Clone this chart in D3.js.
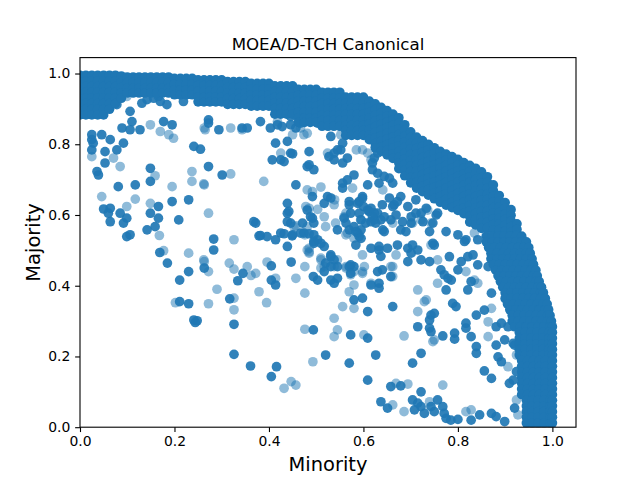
<!DOCTYPE html>
<html>
<head>
<meta charset="utf-8">
<script src="https://cdn.jsdelivr.net/npm/d3@7"></script>
<style>
html,body{margin:0;padding:0;background:#fff;}
text{font-family:"DejaVu Sans",sans-serif;fill:#000;}
</style>
</head>
<body>
<svg id="chart" width="640" height="480"></svg>
<script>
// ---------------- data ----------------
const title = "MOEA/D-TCH Canonical";
const xLabel = "Minority";
const yLabel = "Majority";
const xTicks = [0.0, 0.2, 0.4, 0.6, 0.8, 1.0];
const yTicks = [0.0, 0.2, 0.4, 0.6, 0.8, 1.0];
const xDomain = [0, 1.05];
const yDomain = [0, 1.045];

// dense front: each block = [list of x, list of y] (every x paired with every y)
const frontBlocks = [
  [[0, 0.0125, 0.025, 0.0375, 0.05], [0.995, 0.979, 0.963, 0.947, 0.931, 0.915, 0.899, 0.883]],
  [[0.0625], [0.995, 0.979, 0.963, 0.947, 0.931, 0.915, 0.899]],
  [[0.075], [0.995, 0.979, 0.963, 0.947, 0.931, 0.915]],
  [[0.0875], [0.993, 0.977, 0.961, 0.945, 0.93]],
  [[0.1, 0.1125, 0.125, 0.1375, 0.15, 0.1625, 0.175, 0.1875], [0.99, 0.974, 0.958, 0.945]],
  [[0.2, 0.2125, 0.225, 0.2375], [0.986, 0.97, 0.954, 0.94]],
  [[0.25, 0.2625, 0.275, 0.2875, 0.3], [0.982, 0.966, 0.95, 0.934, 0.92]],
  [[0.3125, 0.325, 0.3375, 0.35], [0.977, 0.961, 0.945, 0.929, 0.913]],
  [[0.3625, 0.375, 0.3875, 0.4], [0.972, 0.956, 0.94, 0.924, 0.908]],
  [[0.4125, 0.425, 0.4375, 0.45], [0.965, 0.949, 0.933, 0.917, 0.901, 0.885]],
  [[0.4625, 0.475, 0.4875, 0.5], [0.955, 0.939, 0.923, 0.907, 0.891, 0.875, 0.862]],
  [[0.5125, 0.525, 0.5375, 0.55], [0.947, 0.931, 0.915, 0.899, 0.883, 0.867, 0.851]],
  [[0.5625, 0.575, 0.5875, 0.6], [0.933, 0.917, 0.901, 0.885, 0.869, 0.853, 0.839, 0.825]],
  [[0.6125], [0.922, 0.906, 0.89, 0.874, 0.858, 0.842, 0.826, 0.813]],
  [[0.625], [0.914, 0.898, 0.882, 0.866, 0.85, 0.834, 0.818, 0.802, 0.79]],
  [[0.6375], [0.904, 0.888, 0.872, 0.856, 0.84, 0.824, 0.808, 0.792, 0.78]],
  [[0.65], [0.895, 0.879, 0.863, 0.847, 0.831, 0.815, 0.799, 0.783, 0.77]],
  [[0.6625], [0.885, 0.869, 0.853, 0.837, 0.821, 0.805, 0.789, 0.773, 0.76]],
  [[0.675], [0.875, 0.859, 0.843, 0.827, 0.811, 0.795, 0.779, 0.763, 0.747, 0.731]],
  [[0.6875], [0.855, 0.839, 0.823, 0.807, 0.791, 0.775, 0.759, 0.743, 0.727, 0.711]],
  [[0.7], [0.835, 0.819, 0.803, 0.787, 0.771, 0.755, 0.739, 0.723, 0.707, 0.691]],
  [[0.7125], [0.82, 0.804, 0.788, 0.772, 0.756, 0.74, 0.724, 0.708, 0.692, 0.676]],
  [[0.725], [0.81, 0.794, 0.778, 0.762, 0.746, 0.73, 0.714, 0.698, 0.682, 0.666]],
  [[0.7375], [0.8, 0.784, 0.768, 0.752, 0.736, 0.72, 0.704, 0.688, 0.672, 0.656]],
  [[0.75], [0.79, 0.774, 0.758, 0.742, 0.726, 0.71, 0.694, 0.678, 0.662, 0.646]],
  [[0.7625], [0.78, 0.764, 0.748, 0.732, 0.716, 0.7, 0.684, 0.668, 0.652, 0.636]],
  [[0.775], [0.772, 0.756, 0.74, 0.724, 0.708, 0.692, 0.676, 0.66, 0.644, 0.628]],
  [[0.7875], [0.765, 0.749, 0.733, 0.717, 0.701, 0.685, 0.669, 0.653, 0.637, 0.621]],
  [[0.8], [0.757, 0.741, 0.725, 0.709, 0.693, 0.677, 0.661, 0.645, 0.629, 0.613]],
  [[0.8125], [0.748, 0.732, 0.716, 0.7, 0.684, 0.668, 0.652, 0.636, 0.62, 0.604]],
  [[0.825], [0.74, 0.724, 0.708, 0.692, 0.676, 0.66, 0.644, 0.628, 0.612, 0.596, 0.58]],
  [[0.8375], [0.732, 0.716, 0.7, 0.684, 0.668, 0.652, 0.636, 0.62, 0.604, 0.588, 0.572]],
  [[0.85], [0.722, 0.706, 0.69, 0.674, 0.658, 0.642, 0.626, 0.61, 0.594, 0.578, 0.562]],
  [[0.8625], [0.708, 0.692, 0.676, 0.66, 0.644, 0.628, 0.612, 0.596, 0.58, 0.564]],
  [[0.875], [0.685, 0.669, 0.653, 0.637, 0.621, 0.605, 0.589, 0.573, 0.557]],
  [[0.8875], [0.655, 0.639, 0.623, 0.607, 0.591, 0.575, 0.559]],
  [[0.9], [0.635, 0.619, 0.603, 0.587, 0.571, 0.555]],
  [[0.9125], [0.615, 0.599, 0.583, 0.567, 0.551, 0.54]],
  [[0.925], [0.575, 0.559, 0.543, 0.527, 0.512]],
  [[0.86, 0.8725, 0.885, 0.8975, 0.91, 0.9225, 0.935], [0.54]],
  [[0.86, 0.8725, 0.885, 0.8975, 0.91, 0.9225, 0.935, 0.945], [0.524]],
  [[0.865, 0.8775, 0.89, 0.9025, 0.915, 0.9275, 0.94, 0.95], [0.508]],
  [[0.87, 0.8825, 0.895, 0.9075, 0.92, 0.9325, 0.945, 0.953], [0.492]],
  [[0.87, 0.8825, 0.895, 0.9075, 0.92, 0.9325, 0.945, 0.957], [0.476]],
  [[0.875, 0.8875, 0.9, 0.9125, 0.925, 0.9375, 0.95, 0.96], [0.46]],
  [[0.88, 0.8925, 0.905, 0.9175, 0.93, 0.9425, 0.955, 0.965], [0.444]],
  [[0.885, 0.8975, 0.91, 0.9225, 0.935, 0.9475, 0.96, 0.968], [0.428]],
  [[0.89, 0.9025, 0.915, 0.9275, 0.94, 0.9525, 0.965, 0.972], [0.412]],
  [[0.895, 0.9075, 0.92, 0.9325, 0.945, 0.9575, 0.97, 0.977], [0.396]],
  [[0.9, 0.9125, 0.925, 0.9375, 0.95, 0.9625, 0.975, 0.981], [0.38]],
  [[0.9, 0.9125, 0.925, 0.9375, 0.95, 0.9625, 0.975, 0.985], [0.364]],
  [[0.905, 0.9175, 0.93, 0.9425, 0.955, 0.9675, 0.98, 0.989], [0.348]],
  [[0.91, 0.9225, 0.935, 0.9475, 0.96, 0.9725, 0.985, 0.992], [0.332]],
  [[0.915, 0.9275, 0.94, 0.9525, 0.965, 0.9775, 0.99, 0.995], [0.316]],
  [[0.915, 0.9275, 0.94, 0.9525, 0.965, 0.9775, 0.99, 0.998], [0.3]],
  [[0.92, 0.9325, 0.945, 0.9575, 0.97, 0.9825, 0.995, 1.0], [0.284]],
  [[0.93, 0.9425, 0.955, 0.9675, 0.98, 0.9925, 1.0], [0.268, 0.252, 0.236, 0.22, 0.204]],
  [[0.935, 0.9475, 0.96, 0.9725, 0.985, 1.0], [0.188, 0.172, 0.156, 0.14, 0.124, 0.108, 0.092]],
  [[0.945, 0.9575, 0.97, 0.9825, 0.995, 1.0], [0.076, 0.06, 0.044, 0.028, 0.012]]
];

// scattered points that are drawn on top of each other (look solid)
const solidPoints = [
  [0.078,0.912],[0.106,0.893],[0.131,0.916],[0.142,0.926],[0.156,0.93],[0.166,0.935],[0.17,0.921],[0.184,0.912],[0.219,0.921],
  [0.089,0.846],[0.11,0.864],[0.127,0.841],[0.106,0.841],[0.177,0.864],[0.195,0.855],[0.272,0.869],[0.294,0.841],[0.343,0.846],[0.354,0.846],
  [0.025,0.827],[0.025,0.813],[0.046,0.827],[0.028,0.803],[0.025,0.784],[0.064,0.813],[0.092,0.803],[0.053,0.779],[0.078,0.784],
  [0.053,0.747],[0.036,0.723],[0.039,0.713],[0.149,0.732],[0.149,0.695],[0.081,0.68],[0.117,0.685],[0.23,0.643],[0.272,0.737],[0.301,0.713],
  [0.241,0.794],[0.255,0.786],[0.05,0.617],[0.064,0.619],[0.06,0.605],[0.064,0.581],[0.085,0.605],[0.099,0.591],[0.092,0.577],
  [0.149,0.605],[0.166,0.624],[0.166,0.591],[0.159,0.567],[0.142,0.558],[0.195,0.638],[0.209,0.586],[0.099,0.539],[0.106,0.544],[0.283,0.532],
  [0.372,0.577],[0.382,0.542],[0.396,0.539],[0.414,0.53],[0.414,0.803],[0.425,0.756],[0.432,0.751],[0.446,0.775],[0.485,0.779],[0.485,0.742],[0.495,0.728],
  [0.457,0.685],[0.439,0.633],[0.439,0.605],[0.446,0.577],[0.481,0.614],[0.488,0.595],[0.495,0.577],[0.474,0.549],[0.495,0.544],[0.503,0.53],[0.492,0.652],
  [0.403,0.846],[0.446,0.878],[0.503,0.86],
  [0.169,0.494],[0.185,0.464],[0.283,0.501],[0.263,0.45],[0.23,0.44],[0.211,0.416],[0.211,0.355],[0.23,0.349],[0.241,0.303],[0.248,0.301],[0.244,0.296],
  [0.345,0.435],[0.334,0.414],[0.317,0.363],[0.326,0.291],[0.326,0.206],[0.361,0.173],[0.405,0.456],[0.405,0.416],[0.414,0.402],[0.416,0.171],[0.405,0.143],
  [0.439,0.511],[0.432,0.547],[0.449,0.541],[0.447,0.467],[0.494,0.275],[0.485,0.547],[0.495,0.52],[0.494,0.426],[0.503,0.416],
  [0.272,0.86],[0.382,0.864],[0.418,0.855],[0.428,0.85],[0.446,0.855],[0.457,0.846],[0.467,0.86],[0.439,0.808],
  [0.407,0.756],[0.45,0.773],[0.538,0.775],[0.552,0.784],[0.556,0.747],[0.566,0.761],[0.58,0.713],[0.566,0.699],[0.556,0.69],[0.556,0.676],
  [0.623,0.761],[0.619,0.728],[0.63,0.718],[0.598,0.647],[0.588,0.633],[0.6,0.624],[0.57,0.638],[0.524,0.652],[0.531,0.648],[0.517,0.633],
  [0.442,0.61],[0.439,0.581],[0.368,0.581],[0.471,0.577],[0.492,0.591],[0.467,0.549],[0.425,0.549],[0.45,0.544],[0.379,0.541],[0.517,0.511],
  [0.545,0.558],[0.573,0.605],[0.58,0.567],[0.588,0.549],[0.595,0.558],[0.605,0.577],[0.609,0.614],[0.623,0.586],[0.63,0.605],
  [0.584,0.515],[0.616,0.506],[0.633,0.501],[0.531,0.482],[0.538,0.473],[0.545,0.454],[0.58,0.454],
  [0.57,0.629],[0.591,0.638],[0.559,0.591],[0.591,0.605],[0.57,0.558],[0.584,0.553],[0.591,0.539],
  [0.616,0.619],[0.623,0.605],[0.616,0.581],[0.637,0.586],[0.641,0.558],[0.665,0.629],[0.669,0.6],[0.683,0.581],[0.701,0.577],[0.69,0.553],[0.679,0.558],
  [0.711,0.605],[0.733,0.619],[0.754,0.6],[0.726,0.581],[0.74,0.553],[0.775,0.553],[0.8,0.544],[0.817,0.53],[0.842,0.53],
  [0.633,0.511],[0.651,0.506],[0.694,0.506],[0.704,0.515],[0.715,0.501],[0.701,0.492],[0.747,0.52],
  [0.531,0.487],[0.573,0.459],[0.694,0.468],[0.722,0.473],[0.74,0.468],[0.782,0.482],[0.807,0.468],[0.821,0.482],[0.832,0.487],
  [0.764,0.445],[0.771,0.431],[0.779,0.421],[0.786,0.416],[0.8,0.445],[0.842,0.459],[0.864,0.454],[0.63,0.44],[0.64,0.445],
  [0.531,0.416],[0.545,0.421],[0.538,0.407],[0.633,0.407],[0.633,0.393],[0.658,0.426],[0.775,0.388],[0.828,0.412],[0.821,0.388],[0.871,0.379],
  [0.598,0.365],[0.58,0.36],[0.609,0.327],[0.789,0.35],[0.796,0.341],[0.743,0.317],[0.75,0.322],[0.839,0.317],[0.856,0.331],
  [0.573,0.261],[0.609,0.252],[0.715,0.284],[0.74,0.28],[0.768,0.258],[0.793,0.266],[0.793,0.249],[0.817,0.294],[0.817,0.28],[0.828,0.256],
  [0.839,0.228],[0.881,0.232],[0.899,0.247],[0.917,0.237],[0.892,0.294],[0.906,0.284],[0.662,0.341],
  [0.74,0.303],[0.743,0.27],[0.881,0.284],[0.839,0.209],[0.722,0.209],[0.704,0.181],[0.885,0.199],[0.892,0.185],[0.856,0.159],[0.871,0.138],[0.92,0.232],
  [0.924,0.157],[0.917,0.133],[0.909,0.124],[0.658,0.115],[0.679,0.117],[0.722,0.1],[0.637,0.072],[0.651,0.054],
  [0.704,0.077],[0.715,0.068],[0.722,0.058],[0.708,0.049],[0.729,0.039],[0.743,0.058],[0.75,0.044],[0.757,0.077],[0.768,0.058],[0.771,0.039],[0.775,0.025],
  [0.8,0.022],[0.846,0.035],[0.871,0.039],[0.881,0.03],[0.899,0.016],[0.92,0.054],[0.785,0.02],[0.828,0.02],
  [0.51,0.52],[0.52,0.464],[0.531,0.454],[0.517,0.44],[0.57,0.454],[0.573,0.435],[0.637,0.483],[0.616,0.402],[0.52,0.204],[0.57,0.181],[0.626,0.204],[0.609,0.133],
  [0.481,0.737],[0.495,0.525],[0.527,0.765],[0.538,0.756],[0.545,0.784],[0.556,0.803],[0.531,0.822],
  [0.609,0.685],[0.633,0.69],[0.644,0.709],[0.655,0.704],[0.662,0.69],[0.63,0.775],[0.619,0.747],[0.598,0.652],[0.612,0.61],[0.619,0.595],[0.595,0.586],[0.595,0.534],
  [0.563,0.577],[0.64,0.629],[0.655,0.648],[0.662,0.624],[0.672,0.638],[0.679,0.652],[0.694,0.624],[0.711,0.643],[0.722,0.605],[0.701,0.595],
  [0.644,0.595],[0.658,0.586],[0.626,0.577],[0.644,0.553],[0.747,0.577],[0.757,0.605],[0.814,0.525],[0.672,0.515],[0.75,0.515]
];

// single (light) points
const faintPoints = [
  [0.099,0.935],[0.149,0.855],[0.17,0.836],[0.188,0.827],[0.198,0.817],[0.319,0.846],[0.263,0.846],[0.025,0.765],[0.071,0.761],[0.085,0.737],[0.159,0.711],
  [0.046,0.652],[0.195,0.68],[0.237,0.723],[0.237,0.695],[0.319,0.716],[0.263,0.685],[0.099,0.624],[0.117,0.645],[0.149,0.633],[0.168,0.542],[0.272,0.605],
  [0.326,0.53],[0.389,0.695],[0.481,0.671],[0.492,0.666],[0.453,0.567],[0.478,0.624],[0.481,0.567],[0.418,0.864],[0.467,0.846],[0.481,0.831],
  [0.177,0.499],[0.23,0.492],[0.263,0.468],[0.272,0.44],[0.202,0.352],[0.272,0.349],[0.29,0.39],[0.316,0.464],[0.326,0.447],[0.354,0.454],[0.362,0.429],[0.372,0.435],
  [0.326,0.365],[0.326,0.332],[0.379,0.383],[0.396,0.467],[0.414,0.421],[0.395,0.352],[0.432,0.11],[0.447,0.129],[0.457,0.119],[0.457,0.421],[0.476,0.454],[0.476,0.379],[0.476,0.277],[0.493,0.185],[0.476,0.544],[0.485,0.496],[0.51,0.473],[0.51,0.45],
  [0.265,0.841],[0.343,0.841],[0.45,0.827],[0.474,0.827],[0.262,0.688],[0.425,0.775],[0.51,0.679],[0.524,0.775],[0.577,0.676],[0.609,0.775],[0.598,0.784],[0.539,0.643],[0.485,0.619],[0.503,0.616],[0.457,0.569],[0.485,0.506],[0.485,0.492],[0.559,0.595],[0.566,0.549],[0.563,0.544],[0.598,0.487],[0.602,0.454],[0.51,0.478],[0.517,0.454],[0.538,0.454],[0.563,0.454],[0.262,0.473],
  [0.538,0.629],[0.563,0.605],[0.594,0.586],[0.58,0.534],[0.662,0.577],[0.722,0.586],[0.743,0.577],[0.835,0.549],[0.669,0.487],[0.743,0.515],[0.545,0.473],[0.563,0.45],[0.598,0.44],[0.757,0.473],[0.817,0.44],[0.662,0.454],[0.662,0.426],
  [0.573,0.431],[0.58,0.402],[0.57,0.383],[0.616,0.407],[0.715,0.388],[0.757,0.407],[0.835,0.416],[0.842,0.407],[0.556,0.341],[0.58,0.336],[0.733,0.36],[0.715,0.327],[0.871,0.336],[0.538,0.308],[0.545,0.275],[0.538,0.256],[0.601,0.261],[0.686,0.258],[0.75,0.247],[0.864,0.298],[0.864,0.256],
  [0.729,0.355],[0.747,0.242],[0.906,0.171],[0.924,0.204],[0.669,0.124],[0.694,0.122],[0.768,0.119],[0.662,0.063],[0.686,0.044],[0.74,0.072],[0.817,0.044],[0.828,0.049],[0.927,0.035],[0.924,0.077],[0.948,0.044],[0.998,0.272],
  [0.481,0.501],[0.58,0.44],[0.598,0.435],[0.658,0.454],[0.585,0.784],[0.552,0.827],[0.616,0.756],[0.641,0.671],[0.541,0.577],[0.52,0.567],[0.517,0.595],[0.704,0.577],[0.736,0.614]
];

// ---------------- drawing ----------------
(function () {
  const W = 640, H = 480;
  const mLeft = 80, mRight = 576, mTop = 57.6, mBottom = 427.2;
  const color = "#1f77b4";
  const r = 4.85;

  const svg = d3.select("#chart");
  svg.append("rect").attr("width", W).attr("height", H).attr("fill", "#fff");

  const x = d3.scaleLinear().domain(xDomain).range([mLeft, mRight]);
  const y = d3.scaleLinear().domain(yDomain).range([mBottom, mTop]);

  svg.append("defs").append("clipPath").attr("id", "clip")
    .append("rect").attr("x", mLeft).attr("y", mTop).attr("width", mRight - mLeft).attr("height", mBottom - mTop);

  const plot = svg.append("g").attr("clip-path", "url(#clip)");

  const frontPoints = [];
  frontBlocks.forEach(([xs, ys]) => xs.forEach(px => ys.forEach(py => frontPoints.push([px, py]))));

  plot.append("g").selectAll("circle").data(faintPoints).join("circle")
    .attr("cx", d => x(d[0])).attr("cy", d => y(d[1])).attr("r", r)
    .attr("fill", color).attr("fill-opacity", 0.5);

  plot.append("g").selectAll("circle").data(solidPoints).join("circle")
    .attr("cx", d => x(d[0])).attr("cy", d => y(d[1])).attr("r", r)
    .attr("fill", color).attr("fill-opacity", 0.92);

  plot.append("g").selectAll("circle").data(frontPoints).join("circle")
    .attr("cx", d => x(d[0])).attr("cy", d => y(d[1])).attr("r", r)
    .attr("fill", color);

  const fmt = d3.format(".1f");
  const xAxis = svg.append("g").attr("transform", `translate(0,${mBottom})`)
    .call(d3.axisBottom(x).tickValues(xTicks).tickFormat(fmt).tickSizeOuter(0).tickSize(4.86).tickPadding(4.2));
  const yAxis = svg.append("g").attr("transform", `translate(${mLeft},0)`)
    .call(d3.axisLeft(y).tickValues(yTicks).tickFormat(fmt).tickSizeOuter(0).tickSize(4.86).tickPadding(4.9));
  [xAxis, yAxis].forEach(g => {
    g.select(".domain").remove();
    g.selectAll(".tick line").attr("stroke", "#000").attr("stroke-width", 1.1);
    g.selectAll(".tick text").attr("font-family", "DejaVu Sans").attr("font-size", "13.9px").attr("fill", "#000");
  });

  svg.append("rect").attr("x", mLeft).attr("y", mTop).attr("width", mRight - mLeft).attr("height", mBottom - mTop)
    .attr("fill", "none").attr("stroke", "#000").attr("stroke-width", 1.1);

  svg.append("text").attr("x", (mLeft + mRight) / 2).attr("y", 49.5).attr("text-anchor", "middle")
    .attr("font-size", "16.67px").text(title);
  svg.append("text").attr("x", (mLeft + mRight) / 2).attr("y", 471).attr("text-anchor", "middle")
    .attr("font-size", "19.44px").text(xLabel);
  svg.append("text").attr("transform", `translate(39.5,${(mTop + mBottom) / 2}) rotate(-90)`).attr("text-anchor", "middle")
    .attr("font-size", "19.44px").text(yLabel);
})();
</script>
</body>
</html>
